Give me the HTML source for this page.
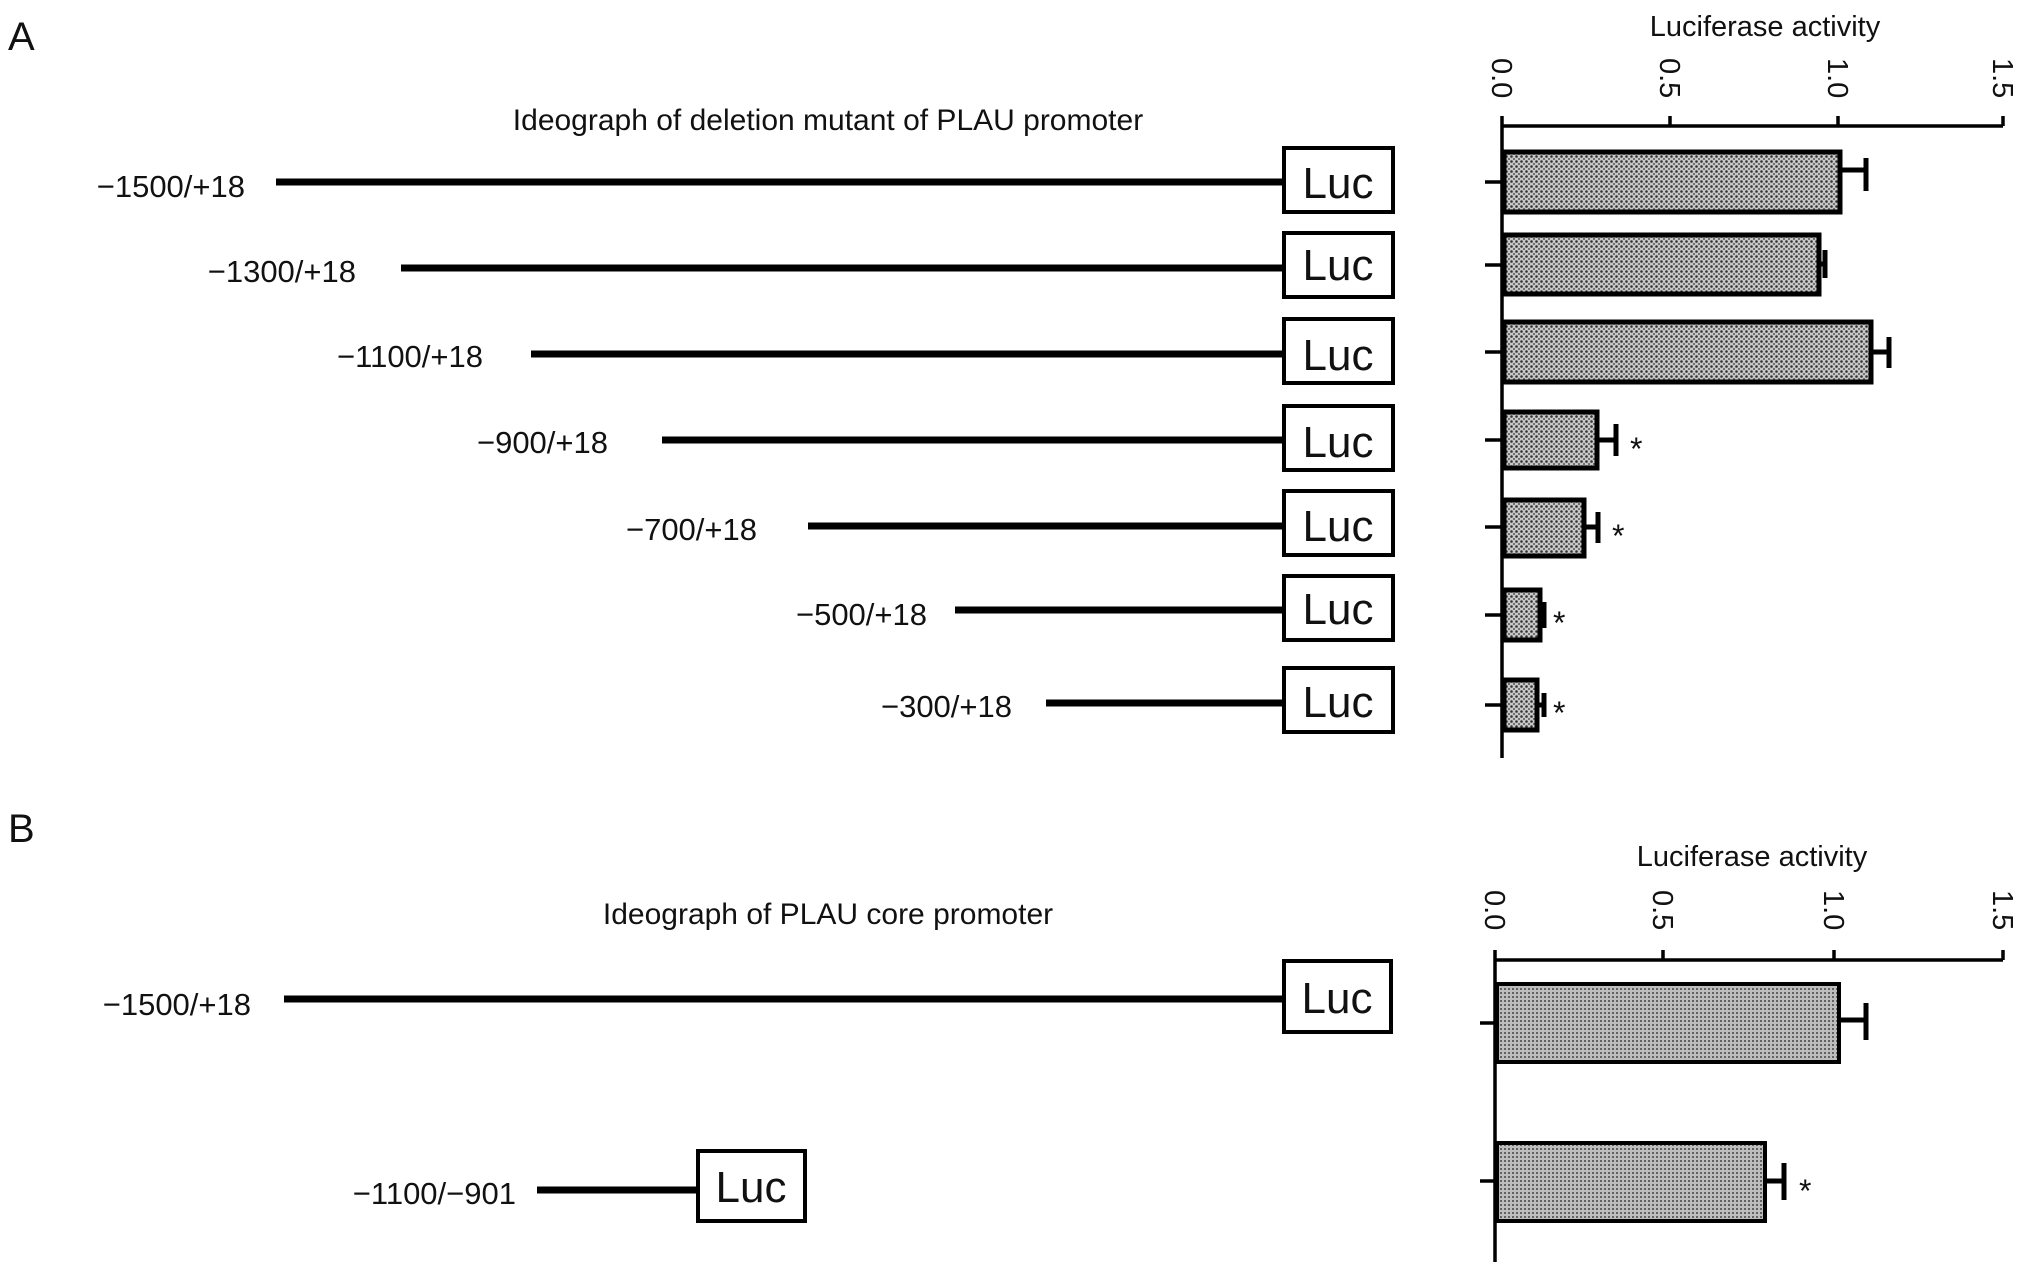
<!DOCTYPE html>
<html><head><meta charset="utf-8"><style>
html,body{margin:0;padding:0;background:#fff;}
svg{display:block;}
text{font-family:"Liberation Sans",Arial,sans-serif;fill:#111;}
</style></head><body>
<svg width="2032" height="1270" viewBox="0 0 2032 1270" xmlns="http://www.w3.org/2000/svg">
<defs>
<pattern id="d" width="5" height="5" patternUnits="userSpaceOnUse">
<rect width="5" height="5" fill="#c8c8c8"/>
<circle cx="1.5" cy="1.5" r="1.3" fill="#333"/>
<circle cx="4" cy="4" r="1" fill="#555"/>
</pattern>
<pattern id="e" width="4" height="4" patternUnits="userSpaceOnUse">
<rect width="4" height="4" fill="#bdbdbd"/>
<circle cx="1" cy="1" r="1" fill="#444"/>
</pattern>
</defs>
<text x="8" y="50" font-size="40">A</text>
<text x="8" y="842" font-size="40">B</text>

<!-- Panel A diagram -->
<text x="828" y="130" font-size="30" text-anchor="middle">Ideograph of deletion mutant of PLAU promoter</text>
<g stroke="#000" stroke-width="7">
<line x1="276" y1="182" x2="1283" y2="182"/>
<line x1="401" y1="268" x2="1283" y2="268"/>
<line x1="531" y1="354" x2="1283" y2="354"/>
<line x1="662" y1="440" x2="1283" y2="440"/>
<line x1="808" y1="526" x2="1283" y2="526"/>
<line x1="955" y1="610" x2="1283" y2="610"/>
<line x1="1046" y1="703" x2="1283" y2="703"/>
</g>
<g fill="#fff" stroke="#000" stroke-width="4">
<rect x="1284" y="148" width="109" height="64"/>
<rect x="1284" y="233" width="109" height="64"/>
<rect x="1284" y="319" width="109" height="64"/>
<rect x="1284" y="406" width="109" height="64"/>
<rect x="1284" y="491" width="109" height="64"/>
<rect x="1284" y="576" width="109" height="64"/>
<rect x="1284" y="668" width="109" height="64"/>
</g>
<g font-size="44" text-anchor="middle">
<text x="1338" y="198">Luc</text>
<text x="1338" y="280">Luc</text>
<text x="1338" y="370">Luc</text>
<text x="1338" y="457">Luc</text>
<text x="1338" y="541">Luc</text>
<text x="1338" y="624">Luc</text>
<text x="1338" y="717">Luc</text>
</g>
<g font-size="31" text-anchor="end">
<text x="245" y="197">−1500/+18</text>
<text x="356" y="282">−1300/+18</text>
<text x="483" y="367">−1100/+18</text>
<text x="608" y="453">−900/+18</text>
<text x="757" y="540">−700/+18</text>
<text x="927" y="625">−500/+18</text>
<text x="1012" y="717">−300/+18</text>
</g>

<!-- Panel A chart -->
<text x="1765" y="36" font-size="29" text-anchor="middle">Luciferase activity</text>
<g font-size="29">
<text transform="translate(1492,58) rotate(90)">0.0</text>
<text transform="translate(1660,58) rotate(90)">0.5</text>
<text transform="translate(1828,58) rotate(90)">1.0</text>
<text transform="translate(1993,58) rotate(90)">1.5</text>
</g>
<g stroke="#000" stroke-width="3.5" fill="none">
<line x1="1502" y1="126" x2="2003" y2="126"/>
<line x1="1502" y1="116" x2="1502" y2="758"/>
<line x1="1670" y1="116" x2="1670" y2="126"/>
<line x1="1838" y1="116" x2="1838" y2="126"/>
<line x1="2003" y1="116" x2="2003" y2="126"/>
<line x1="1485" y1="182" x2="1502" y2="182"/>
<line x1="1485" y1="265" x2="1502" y2="265"/>
<line x1="1485" y1="352" x2="1502" y2="352"/>
<line x1="1485" y1="440" x2="1502" y2="440"/>
<line x1="1485" y1="527" x2="1502" y2="527"/>
<line x1="1485" y1="615" x2="1502" y2="615"/>
<line x1="1485" y1="705" x2="1502" y2="705"/>
</g>
<g fill="url(#d)" stroke="#000" stroke-width="5">
<rect x="1504" y="152" width="336" height="60"/>
<rect x="1504" y="235" width="315" height="59"/>
<rect x="1504" y="322" width="367" height="60"/>
<rect x="1504" y="412" width="93" height="56"/>
<rect x="1504" y="500" width="80" height="56"/>
<rect x="1504" y="590" width="36" height="50"/>
<rect x="1504" y="680" width="33" height="50"/>
</g>
<g stroke="#000" stroke-width="5">
<line x1="1840" y1="170" x2="1866" y2="170"/><line x1="1866" y1="158" x2="1866" y2="191"/>
<line x1="1819" y1="264" x2="1826" y2="264"/><line x1="1825" y1="250" x2="1825" y2="278"/>
<line x1="1871" y1="352" x2="1889" y2="352"/><line x1="1889" y1="337" x2="1889" y2="368"/>
<line x1="1597" y1="440" x2="1616" y2="440"/><line x1="1616" y1="424" x2="1616" y2="456"/>
<line x1="1584" y1="527" x2="1598" y2="527"/><line x1="1598" y1="512" x2="1598" y2="543"/>
<line x1="1540" y1="614" x2="1544" y2="614"/><line x1="1544" y1="602" x2="1544" y2="628"/>
<line x1="1537" y1="705" x2="1544" y2="705"/><line x1="1544" y1="693" x2="1544" y2="717"/>
</g>
<g font-size="32">
<text x="1630" y="460">*</text>
<text x="1612" y="547">*</text>
<text x="1553" y="634">*</text>
<text x="1553" y="724">*</text>
</g>

<!-- Panel B diagram -->
<text x="828" y="924" font-size="30" text-anchor="middle">Ideograph of PLAU core promoter</text>
<g stroke="#000" stroke-width="7">
<line x1="284" y1="999" x2="1283" y2="999"/>
<line x1="537" y1="1190" x2="697" y2="1190"/>
</g>
<g fill="#fff" stroke="#000" stroke-width="4">
<rect x="1284" y="961" width="107" height="71"/>
<rect x="698" y="1151" width="107" height="70"/>
</g>
<g font-size="44" text-anchor="middle">
<text x="1337" y="1013">Luc</text>
<text x="751" y="1202">Luc</text>
</g>
<g font-size="31" text-anchor="end">
<text x="251" y="1015">−1500/+18</text>
<text x="516" y="1204">−1100/−901</text>
</g>

<!-- Panel B chart -->
<text x="1752" y="866" font-size="29" text-anchor="middle">Luciferase activity</text>
<g font-size="29">
<text transform="translate(1485,890) rotate(90)">0.0</text>
<text transform="translate(1653,890) rotate(90)">0.5</text>
<text transform="translate(1824,890) rotate(90)">1.0</text>
<text transform="translate(1993,890) rotate(90)">1.5</text>
</g>
<g stroke="#000" stroke-width="3.5" fill="none">
<line x1="1495" y1="960" x2="2003" y2="960"/>
<line x1="1495" y1="950" x2="1495" y2="1262"/>
<line x1="1663" y1="950" x2="1663" y2="960"/>
<line x1="1834" y1="950" x2="1834" y2="960"/>
<line x1="2003" y1="950" x2="2003" y2="960"/>
<line x1="1480" y1="1023" x2="1495" y2="1023"/>
<line x1="1480" y1="1181" x2="1495" y2="1181"/>
</g>
<g fill="url(#e)" stroke="#000" stroke-width="4">
<rect x="1497" y="984" width="342" height="78"/>
<rect x="1497" y="1143" width="268" height="78"/>
</g>
<g stroke="#000" stroke-width="5">
<line x1="1839" y1="1020" x2="1866" y2="1020"/><line x1="1866" y1="1003" x2="1866" y2="1040"/>
<line x1="1765" y1="1181" x2="1784" y2="1181"/><line x1="1784" y1="1163" x2="1784" y2="1200"/>
</g>
<text x="1799" y="1202" font-size="32">*</text>
</svg>
</body></html>
